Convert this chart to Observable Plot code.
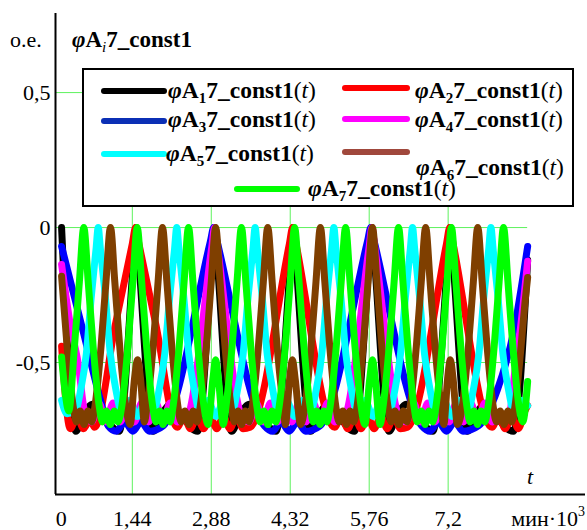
<!DOCTYPE html>
<html><head><meta charset="utf-8">
<script src="https://cdn.jsdelivr.net/npm/d3@7"></script>
<script src="https://cdn.jsdelivr.net/npm/@observablehq/plot@0.6"></script>
<style>
html,body{margin:0;padding:0;background:#fff;}
#wrap{position:relative;width:587px;height:530px;}
</style></head><body><div id="wrap"></div>
<script>
// ---- data (t in min·10^3, value in o.e.) ----
const seriesSubs = ["1","2","3","4","5","6","7"];
const lineColors = ["#000000","#ff0000","#0000ff","#ff00ff","#00ffff","#7f3f00","#00ff00"];
const legendColors = ["#000000","#ff0000","#0b2fb5","#ff00ff","#00ffff","#a0483c","#00ff00"];
const gridColor = "#5ef25e";

const phiA1 = [[0.15,0],[0.41,-0.755],[0.56,-0.69],[0.72,-0.655],[0.88,-0.69],[1.20,-0.755],[1.47,-0.10],[1.51,0],[1.55,-0.10],[1.82,-0.755],[1.98,-0.69],[2.15,-0.655],[2.31,-0.69],[2.63,-0.755],[2.90,-0.10],[2.94,0],[2.98,-0.10],[3.25,-0.755],[3.41,-0.69],[3.58,-0.655],[3.74,-0.69],[4.06,-0.755],[4.335,-0.10],[4.375,0],[4.415,-0.10],[4.69,-0.755],[4.85,-0.69],[5.01,-0.655],[5.17,-0.69],[5.49,-0.755],[5.77,-0.10],[5.81,0],[5.85,-0.10],[6.12,-0.755],[6.28,-0.69],[6.44,-0.655],[6.60,-0.69],[6.92,-0.755],[7.20,-0.10],[7.24,0],[7.28,-0.10],[7.55,-0.755],[7.71,-0.69],[7.87,-0.655],[8.03,-0.69],[8.39,-0.755],[8.65,-0.12]];
const phiA2 = [[0.15,-0.44],[0.31,-0.745],[0.43,-0.70],[0.55,-0.745],[0.67,-0.71],[0.75,-0.74],[1.13,-0.36],[1.44,-0.06],[1.50,0],[1.56,-0.06],[1.87,-0.36],[2.26,-0.74],[2.38,-0.70],[2.50,-0.745],[2.62,-0.70],[2.74,-0.745],[2.86,-0.70],[2.98,-0.745],[3.10,-0.70],[3.22,-0.745],[3.34,-0.70],[3.46,-0.745],[3.59,-0.74],[4.305,-0.06],[4.365,0],[4.425,-0.06],[5.13,-0.74],[5.25,-0.70],[5.37,-0.745],[5.49,-0.70],[5.61,-0.745],[5.73,-0.70],[5.85,-0.745],[5.97,-0.70],[6.09,-0.745],[6.21,-0.70],[6.33,-0.745],[6.46,-0.74],[7.17,-0.06],[7.23,0],[7.29,-0.06],[8.0,-0.74],[8.12,-0.70],[8.24,-0.745],[8.36,-0.70],[8.48,-0.745],[8.60,-0.68],[8.65,-0.66]];
const phiA3 = [[0.15,-0.07],[0.55,-0.39],[0.86,-0.64],[1.00,-0.735],[1.15,-0.755],[1.30,-0.72],[1.45,-0.755],[1.60,-0.72],[1.75,-0.755],[2.00,-0.735],[2.865,-0.05],[2.925,0],[2.985,-0.05],[3.85,-0.735],[4.00,-0.755],[4.15,-0.72],[4.30,-0.755],[4.45,-0.72],[4.60,-0.755],[4.86,-0.735],[5.73,-0.05],[5.79,0],[5.85,-0.05],[6.72,-0.735],[6.87,-0.755],[7.02,-0.72],[7.17,-0.755],[7.32,-0.72],[7.47,-0.755],[7.75,-0.735],[8.10,-0.60],[8.40,-0.38],[8.65,-0.07]];
const phiA4 = [[0.15,-0.137],[0.31,-0.36],[0.45,-0.50],[0.57,-0.68],[0.70,-0.72],[0.83,-0.65],[0.96,-0.72],[1.09,-0.65],[1.22,-0.72],[1.35,-0.65],[1.48,-0.72],[1.61,-0.65],[1.74,-0.72],[1.87,-0.65],[2.00,-0.72],[2.13,-0.65],[2.26,-0.72],[2.44,-0.70],[2.89,-0.07],[2.94,0],[2.99,-0.07],[3.44,-0.70],[3.57,-0.72],[3.70,-0.65],[3.83,-0.72],[3.96,-0.65],[4.09,-0.72],[4.22,-0.65],[4.35,-0.72],[4.48,-0.65],[4.61,-0.72],[4.74,-0.65],[4.87,-0.72],[5.00,-0.65],[5.13,-0.72],[5.31,-0.70],[5.76,-0.07],[5.81,0],[5.86,-0.07],[6.31,-0.70],[6.44,-0.72],[6.57,-0.65],[6.70,-0.72],[6.83,-0.65],[6.96,-0.72],[7.09,-0.65],[7.22,-0.72],[7.35,-0.65],[7.48,-0.72],[7.61,-0.65],[7.74,-0.72],[7.87,-0.65],[8.00,-0.72],[8.15,-0.70],[8.30,-0.70],[8.43,-0.51],[8.52,-0.37],[8.65,-0.125]];
const phiA5 = [[0.15,-0.64],[0.25,-0.69],[0.40,-0.68],[0.50,-0.60],[0.60,-0.47],[0.69,-0.26],[0.778,-0.08],[0.818,0],[0.858,-0.08],[0.95,-0.26],[1.04,-0.47],[1.14,-0.60],[1.24,-0.68],[1.39,-0.64],[1.53,-0.70],[1.68,-0.64],[1.83,-0.68],[1.93,-0.60],[2.03,-0.47],[2.12,-0.26],[2.21,-0.08],[2.25,0],[2.29,-0.08],[2.38,-0.26],[2.47,-0.47],[2.57,-0.60],[2.67,-0.68],[2.82,-0.64],[2.965,-0.70],[3.11,-0.64],[3.26,-0.68],[3.36,-0.60],[3.46,-0.47],[3.55,-0.26],[3.64,-0.08],[3.68,0],[3.72,-0.08],[3.81,-0.26],[3.90,-0.47],[4.00,-0.60],[4.10,-0.68],[4.25,-0.64],[4.40,-0.70],[4.55,-0.64],[4.695,-0.68],[4.795,-0.60],[4.895,-0.47],[4.985,-0.26],[5.075,-0.08],[5.115,0],[5.155,-0.08],[5.245,-0.26],[5.335,-0.47],[5.435,-0.60],[5.535,-0.68],[5.685,-0.64],[5.83,-0.70],[5.98,-0.64],[6.13,-0.68],[6.23,-0.60],[6.33,-0.47],[6.42,-0.26],[6.51,-0.08],[6.55,0],[6.59,-0.08],[6.68,-0.26],[6.77,-0.47],[6.87,-0.60],[6.97,-0.68],[7.12,-0.64],[7.265,-0.70],[7.41,-0.64],[7.56,-0.68],[7.66,-0.60],[7.76,-0.47],[7.85,-0.26],[7.94,-0.08],[7.98,0],[8.02,-0.08],[8.11,-0.26],[8.20,-0.47],[8.30,-0.60],[8.40,-0.68],[8.52,-0.64],[8.65,-0.66]];
const phiA6 = [[0.15,-0.18],[0.25,-0.44],[0.36,-0.66],[0.42,-0.72],[0.49,-0.68],[0.56,-0.73],[0.63,-0.68],[0.70,-0.72],[0.76,-0.66],[0.87,-0.44],[0.96,-0.20],[1.042,0],[1.12,-0.20],[1.21,-0.44],[1.32,-0.66],[1.40,-0.73],[1.48,-0.56],[1.534,-0.49],[1.59,-0.56],[1.66,-0.72],[1.71,-0.66],[1.82,-0.44],[1.91,-0.20],[1.99,0],[2.07,-0.20],[2.16,-0.44],[2.27,-0.66],[2.33,-0.72],[2.40,-0.68],[2.475,-0.73],[2.55,-0.68],[2.62,-0.72],[2.68,-0.66],[2.79,-0.44],[2.88,-0.20],[2.96,0],[3.04,-0.20],[3.13,-0.44],[3.24,-0.66],[3.30,-0.72],[3.37,-0.68],[3.435,-0.73],[3.50,-0.68],[3.57,-0.72],[3.63,-0.66],[3.74,-0.44],[3.83,-0.20],[3.91,0],[3.99,-0.20],[4.08,-0.44],[4.19,-0.66],[4.23,-0.73],[4.31,-0.56],[4.36,-0.49],[4.41,-0.56],[4.51,-0.73],[4.59,-0.66],[4.70,-0.44],[4.79,-0.20],[4.87,0],[4.95,-0.20],[5.04,-0.44],[5.15,-0.66],[5.21,-0.72],[5.28,-0.68],[5.345,-0.73],[5.41,-0.68],[5.48,-0.72],[5.54,-0.66],[5.65,-0.44],[5.74,-0.20],[5.82,0],[5.90,-0.20],[5.99,-0.44],[6.10,-0.66],[6.16,-0.72],[6.23,-0.68],[6.305,-0.73],[6.38,-0.68],[6.45,-0.72],[6.51,-0.66],[6.62,-0.44],[6.71,-0.20],[6.79,0],[6.87,-0.20],[6.96,-0.44],[7.07,-0.66],[7.12,-0.73],[7.19,-0.56],[7.24,-0.49],[7.29,-0.56],[7.37,-0.73],[7.46,-0.66],[7.57,-0.44],[7.66,-0.20],[7.74,0],[7.82,-0.20],[7.91,-0.44],[8.02,-0.66],[8.08,-0.72],[8.15,-0.68],[8.22,-0.73],[8.29,-0.68],[8.36,-0.72],[8.42,-0.66],[8.53,-0.44],[8.60,-0.28],[8.65,-0.185]];
const phiA7 = [[0.15,-0.48],[0.22,-0.62],[0.28,-0.68],[0.385,-0.44],[0.475,-0.20],[0.555,0],[0.635,-0.20],[0.725,-0.44],[0.835,-0.66],[0.895,-0.72],[0.965,-0.68],[1.04,-0.73],[1.11,-0.68],[1.18,-0.72],[1.25,-0.66],[1.36,-0.44],[1.45,-0.20],[1.529,0],[1.61,-0.20],[1.70,-0.44],[1.81,-0.66],[1.87,-0.72],[1.94,-0.68],[2.00,-0.73],[2.07,-0.68],[2.13,-0.72],[2.185,-0.66],[2.295,-0.44],[2.385,-0.20],[2.465,0],[2.545,-0.20],[2.635,-0.44],[2.745,-0.66],[2.82,-0.73],[2.91,-0.56],[2.96,-0.49],[3.01,-0.56],[3.10,-0.73],[3.15,-0.66],[3.26,-0.44],[3.35,-0.20],[3.43,0],[3.51,-0.20],[3.60,-0.44],[3.71,-0.66],[3.77,-0.72],[3.84,-0.68],[3.915,-0.73],[3.99,-0.68],[4.06,-0.72],[4.12,-0.66],[4.23,-0.44],[4.32,-0.20],[4.40,0],[4.48,-0.20],[4.57,-0.44],[4.68,-0.66],[4.74,-0.72],[4.80,-0.68],[4.865,-0.73],[4.93,-0.68],[4.99,-0.72],[5.05,-0.66],[5.16,-0.44],[5.25,-0.20],[5.33,0],[5.41,-0.20],[5.50,-0.44],[5.61,-0.66],[5.68,-0.73],[5.77,-0.56],[5.82,-0.49],[5.87,-0.56],[5.96,-0.73],[6.015,-0.66],[6.125,-0.44],[6.215,-0.20],[6.295,0],[6.375,-0.20],[6.465,-0.44],[6.575,-0.66],[6.635,-0.72],[6.71,-0.68],[6.78,-0.73],[6.85,-0.68],[6.92,-0.72],[6.98,-0.66],[7.09,-0.44],[7.18,-0.20],[7.26,0],[7.34,-0.20],[7.43,-0.44],[7.54,-0.66],[7.60,-0.72],[7.67,-0.68],[7.735,-0.73],[7.80,-0.68],[7.87,-0.72],[7.93,-0.66],[8.04,-0.44],[8.13,-0.20],[8.21,0],[8.29,-0.20],[8.38,-0.44],[8.49,-0.66],[8.56,-0.72],[8.65,-0.57]];

const xTicks = [1.44, 2.88, 4.32, 5.76, 7.2];
const xTickLabels = ["1,44", "2,88", "4,32", "5,76", "7,2"];
const yTicks = [0.5, 0, -0.5];
const yTickLabels = ["0,5", "0", "-0,5"];
const xDomain = [0.039, 9.705];
const yDomain = [-0.989, 0.793];
const tEnd = 8.65;

const series = [phiA1, phiA2, phiA3, phiA4, phiA5, phiA6, phiA7];

const marks = [
  Plot.ruleX(xTicks, {x: d => d, y1: yDomain[0], y2: 0.5, stroke: gridColor, strokeWidth: 1}),
  Plot.ruleY(yTicks, {y: d => d, x1: xDomain[0], x2: tEnd, stroke: gridColor, strokeWidth: 1}),
  ...series.map((s, i) => Plot.line(s, {x: p => p[0], y: p => p[1], stroke: lineColors[i], strokeWidth: 7, curve: "monotone-x", strokeLinejoin: "round", strokeLinecap: "round"})),
  Plot.ruleX([xDomain[0]], {y1: yDomain[0], y2: yDomain[1], stroke: "#000", strokeWidth: 2}),
  Plot.ruleY([yDomain[0]], {x1: xDomain[0], x2: xDomain[1], stroke: "#000", strokeWidth: 2}),
  Plot.text(xTicks, {x: d => d, y: yDomain[0], text: (d, i) => xTickLabels[i], dy: 24, fontSize: 22, fill: "#000"}),
  Plot.text([0], {x: d => d, y: yDomain[0], text: () => "0", dy: 24, dx: 8, fontSize: 22, fill: "#000"}),
  Plot.text(yTicks, {x: xDomain[0], y: d => d, text: (d, i) => yTickLabels[i], textAnchor: "end", dx: -5, fontSize: 22, fill: "#000"})
];

const chart = Plot.plot({
  width: 587, height: 530,
  marginLeft: 55, marginRight: 2, marginTop: 13, marginBottom: 36,
  x: {domain: xDomain, axis: null},
  y: {domain: yDomain, axis: null},
  style: {fontFamily: "'Liberation Serif','Times New Roman',serif", fontSize: "22px", background: "#fff", color: "#000", overflow: "visible"},
  marks
});
document.getElementById("wrap").appendChild(chart);

// ---- overlay: axis titles and legend ----
const svg = d3.select(chart);
const font = "'Liberation Serif','Times New Roman',serif";

function phiLabel(g, x, y, sub, subItalic, withT, size) {
  const t = g.append("text").attr("x", x).attr("y", y).attr("text-anchor", "start")
    .attr("font-family", font).attr("font-size", size).attr("font-weight", "bold").attr("fill", "#000");
  t.append("tspan").attr("font-style", "italic").text("φ");
  t.append("tspan").text("A");
  t.append("tspan").attr("font-size", Math.round(size * 0.64)).attr("dy", 5).attr("font-style", subItalic ? "italic" : "normal")
    .attr("font-weight", subItalic ? "normal" : "bold").text(sub);
  t.append("tspan").attr("dy", -5).text("7_const1");
  if (withT) {
    t.append("tspan").attr("font-weight", "normal").text("(");
    t.append("tspan").attr("font-weight", "normal").attr("font-style", "italic").text("t");
    t.append("tspan").attr("font-weight", "normal").text(")");
  }
  return t;
}

const ov = svg.append("g");
ov.append("text").attr("x", 10).attr("y", 47).attr("text-anchor", "start").attr("font-family", font)
  .attr("font-size", 22).attr("fill", "#000").text("о.е.");
phiLabel(ov, 72, 47, "i", true, false, 23);
ov.append("text").attr("x", 530).attr("y", 484).attr("text-anchor", "middle").attr("font-family", font)
  .attr("font-size", 22).attr("font-style", "italic").attr("fill", "#000").text("t");
const unit = ov.append("text").attr("x", 585).attr("y", 526).attr("text-anchor", "end")
  .attr("font-family", font).attr("font-size", 22).attr("fill", "#000");
unit.append("tspan").text("мин·10");
unit.append("tspan").attr("font-size", 14).attr("dy", -10).text("3");

// legend
const lg = svg.append("g");
lg.append("rect").attr("x", 83).attr("y", 69).attr("width", 490).attr("height", 137)
  .attr("fill", "#fff").attr("stroke", "#000").attr("stroke-width", 2);
const legendLayout = [
  {x1: 104, x2: 164, ly: 91, tx: 168, ty: 98},
  {x1: 345, x2: 407, ly: 88, tx: 415, ty: 98},
  {x1: 104, x2: 164, ly: 121, tx: 168, ty: 127},
  {x1: 345, x2: 407, ly: 119, tx: 415, ty: 127},
  {x1: 104, x2: 164, ly: 154, tx: 166, ty: 161},
  {x1: 345, x2: 407, ly: 152, tx: 416, ty: 175},
  {x1: 237, x2: 297, ly: 189, tx: 308, ty: 196}
];
legendLayout.forEach((L, i) => {
  lg.append("line").attr("x1", L.x1).attr("x2", L.x2).attr("y1", L.ly).attr("y2", L.ly)
    .attr("stroke", legendColors[i]).attr("stroke-width", 6).attr("stroke-linecap", "round");
  phiLabel(lg, L.tx, L.ty, seriesSubs[i], false, true, 23.5);
});
</script></body></html>
